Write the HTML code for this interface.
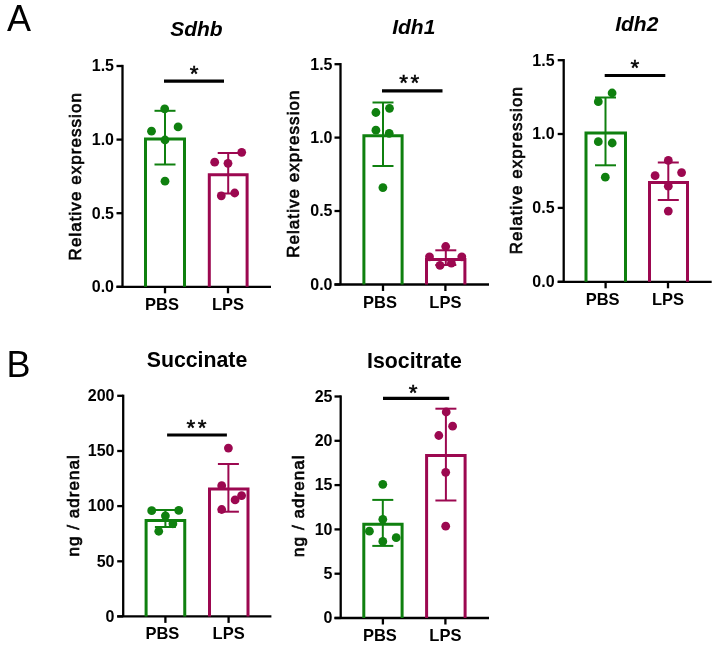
<!DOCTYPE html>
<html><head><meta charset="utf-8"><style>
html,body{margin:0;padding:0;background:#fff;}
body{width:720px;height:648px;overflow:hidden;}
svg{display:block;}
text{font-family:"Liberation Sans",Arial,sans-serif;fill:#000;}
.tick{font-size:16px;font-weight:bold;}
.cat{font-size:16.5px;font-weight:bold;}
.ti{font-size:21px;font-weight:bold;font-style:italic;}
.tb{font-size:21.3px;font-weight:bold;}
.ylab{font-size:17px;letter-spacing:1.05px;stroke:#000;stroke-width:0.65px;}
.star{font-size:22.5px;stroke:#000;stroke-width:0.5px;letter-spacing:2.4px;}
.big{font-size:36px;}
</style></head><body>
<svg width="720" height="648" viewBox="0 0 720 648">
<rect width="720" height="648" fill="#fff"/>
<line x1="122.5" y1="64.85" x2="122.5" y2="286.8" stroke="#000" stroke-width="2.3"/>
<line x1="116.5" y1="66" x2="122.5" y2="66" stroke="#000" stroke-width="2.3"/>
<text x="114" y="71.3" class="tick" text-anchor="end" >1.5</text>
<line x1="116.5" y1="139.6" x2="122.5" y2="139.6" stroke="#000" stroke-width="2.3"/>
<text x="114" y="144.9" class="tick" text-anchor="end" >1.0</text>
<line x1="116.5" y1="213.2" x2="122.5" y2="213.2" stroke="#000" stroke-width="2.3"/>
<text x="114" y="218.5" class="tick" text-anchor="end" >0.5</text>
<line x1="116.5" y1="286.8" x2="122.5" y2="286.8" stroke="#000" stroke-width="2.3"/>
<text x="114" y="292.1" class="tick" text-anchor="end" >0.0</text>
<line x1="116.5" y1="286.8" x2="271" y2="286.8" stroke="#000" stroke-width="2.3"/>
<line x1="165" y1="286.8" x2="165" y2="293.3" stroke="#000" stroke-width="2.3"/>
<line x1="228" y1="286.8" x2="228" y2="293.3" stroke="#000" stroke-width="2.3"/>
<path d="M145.5 286.8 V139 H184.5 V286.8" fill="none" stroke="#0f800f" stroke-width="3"/>
<path d="M209.3 286.8 V174.7 H247.1 V286.8" fill="none" stroke="#9c0850" stroke-width="3"/>
<line x1="165" y1="110.8" x2="165" y2="164.5" stroke="#0f800f" stroke-width="2"/>
<line x1="154.5" y1="110.8" x2="175.5" y2="110.8" stroke="#0f800f" stroke-width="2"/>
<line x1="154.5" y1="164.5" x2="175.5" y2="164.5" stroke="#0f800f" stroke-width="2"/>
<line x1="228.2" y1="153" x2="228.2" y2="193.5" stroke="#9c0850" stroke-width="2"/>
<line x1="217.7" y1="153" x2="238.7" y2="153" stroke="#9c0850" stroke-width="2"/>
<line x1="217.7" y1="193.5" x2="238.7" y2="193.5" stroke="#9c0850" stroke-width="2"/>
<circle cx="164.7" cy="108.8" r="4.4" fill="#0f800f"/>
<circle cx="151.5" cy="131.2" r="4.4" fill="#0f800f"/>
<circle cx="178.1" cy="126.9" r="4.4" fill="#0f800f"/>
<circle cx="165" cy="140" r="4.4" fill="#0f800f"/>
<circle cx="165" cy="181.2" r="4.4" fill="#0f800f"/>
<circle cx="214.7" cy="162.2" r="4.4" fill="#9c0850"/>
<circle cx="228" cy="163.3" r="4.4" fill="#9c0850"/>
<circle cx="241.7" cy="152.3" r="4.4" fill="#9c0850"/>
<circle cx="221.3" cy="195.8" r="4.4" fill="#9c0850"/>
<circle cx="234.7" cy="193" r="4.4" fill="#9c0850"/>
<line x1="164" y1="81.1" x2="224" y2="81.1" stroke="#000" stroke-width="3.2"/>
<text x="195.4" y="81.30000000000001" class="star" text-anchor="middle" >*</text>
<text x="196.4" y="36.1" class="ti" text-anchor="middle" >Sdhb</text>
<text x="162" y="310" class="cat" text-anchor="middle" >PBS</text>
<text x="228" y="310" class="cat" text-anchor="middle" >LPS</text>
<text x="0" y="0" class="ylab" text-anchor="middle" transform="translate(81.2 176.25) rotate(-90)">Relative expression</text>
<line x1="340.5" y1="63.050000000000004" x2="340.5" y2="284.5" stroke="#000" stroke-width="2.3"/>
<line x1="334.5" y1="64.2" x2="340.5" y2="64.2" stroke="#000" stroke-width="2.3"/>
<text x="332.5" y="69.5" class="tick" text-anchor="end" >1.5</text>
<line x1="334.5" y1="137.6" x2="340.5" y2="137.6" stroke="#000" stroke-width="2.3"/>
<text x="332.5" y="142.9" class="tick" text-anchor="end" >1.0</text>
<line x1="334.5" y1="211" x2="340.5" y2="211" stroke="#000" stroke-width="2.3"/>
<text x="332.5" y="216.3" class="tick" text-anchor="end" >0.5</text>
<line x1="334.5" y1="284.5" x2="340.5" y2="284.5" stroke="#000" stroke-width="2.3"/>
<text x="332.5" y="289.8" class="tick" text-anchor="end" >0.0</text>
<line x1="334.5" y1="284.5" x2="489" y2="284.5" stroke="#000" stroke-width="2.3"/>
<line x1="383" y1="284.5" x2="383" y2="291.0" stroke="#000" stroke-width="2.3"/>
<line x1="445.4" y1="284.5" x2="445.4" y2="291.0" stroke="#000" stroke-width="2.3"/>
<path d="M363.9 284.5 V135.7 H402.1 V284.5" fill="none" stroke="#0f800f" stroke-width="3"/>
<path d="M426.5 284.5 V259.4 H464.9 V284.5" fill="none" stroke="#9c0850" stroke-width="3"/>
<line x1="383" y1="102.5" x2="383" y2="166" stroke="#0f800f" stroke-width="2"/>
<line x1="372.5" y1="102.5" x2="393.5" y2="102.5" stroke="#0f800f" stroke-width="2"/>
<line x1="372.5" y1="166" x2="393.5" y2="166" stroke="#0f800f" stroke-width="2"/>
<line x1="445.8" y1="250.3" x2="445.8" y2="265" stroke="#9c0850" stroke-width="2"/>
<line x1="435.3" y1="250.3" x2="456.3" y2="250.3" stroke="#9c0850" stroke-width="2"/>
<line x1="435.3" y1="265" x2="456.3" y2="265" stroke="#9c0850" stroke-width="2"/>
<circle cx="375.9" cy="112.5" r="4.4" fill="#0f800f"/>
<circle cx="389.5" cy="108.3" r="4.4" fill="#0f800f"/>
<circle cx="375.9" cy="130.2" r="4.4" fill="#0f800f"/>
<circle cx="389.2" cy="133.3" r="4.4" fill="#0f800f"/>
<circle cx="382.9" cy="187.6" r="4.4" fill="#0f800f"/>
<circle cx="445.7" cy="246.5" r="4.4" fill="#9c0850"/>
<circle cx="429.5" cy="256.8" r="4.4" fill="#9c0850"/>
<circle cx="461.8" cy="256.8" r="4.4" fill="#9c0850"/>
<circle cx="440" cy="265.4" r="4.4" fill="#9c0850"/>
<circle cx="451.4" cy="263.2" r="4.4" fill="#9c0850"/>
<line x1="382" y1="90.9" x2="442.5" y2="90.9" stroke="#000" stroke-width="3.2"/>
<text x="410.5" y="90.10000000000001" class="star" text-anchor="middle" >**</text>
<text x="413.8" y="34.4" class="ti" text-anchor="middle" >Idh1</text>
<text x="380" y="308" class="cat" text-anchor="middle" >PBS</text>
<text x="445.4" y="308" class="cat" text-anchor="middle" >LPS</text>
<text x="0" y="0" class="ylab" text-anchor="middle" transform="translate(299.4 173.65) rotate(-90)">Relative expression</text>
<line x1="563.7" y1="59.050000000000004" x2="563.7" y2="281.8" stroke="#000" stroke-width="2.3"/>
<line x1="557.7" y1="60.2" x2="563.7" y2="60.2" stroke="#000" stroke-width="2.3"/>
<text x="554.6" y="65.5" class="tick" text-anchor="end" >1.5</text>
<line x1="557.7" y1="134" x2="563.7" y2="134" stroke="#000" stroke-width="2.3"/>
<text x="554.6" y="139.3" class="tick" text-anchor="end" >1.0</text>
<line x1="557.7" y1="207.9" x2="563.7" y2="207.9" stroke="#000" stroke-width="2.3"/>
<text x="554.6" y="213.20000000000002" class="tick" text-anchor="end" >0.5</text>
<line x1="557.7" y1="281.8" x2="563.7" y2="281.8" stroke="#000" stroke-width="2.3"/>
<text x="554.6" y="287.1" class="tick" text-anchor="end" >0.0</text>
<line x1="557.7" y1="281.8" x2="711.7" y2="281.8" stroke="#000" stroke-width="2.3"/>
<line x1="605.6" y1="281.8" x2="605.6" y2="288.3" stroke="#000" stroke-width="2.3"/>
<line x1="668" y1="281.8" x2="668" y2="288.3" stroke="#000" stroke-width="2.3"/>
<path d="M586.0 281.8 V133 H625.5 V281.8" fill="none" stroke="#0f800f" stroke-width="3"/>
<path d="M649.5 281.8 V182.5 H687.5 V281.8" fill="none" stroke="#9c0850" stroke-width="3"/>
<line x1="605.5" y1="97.5" x2="605.5" y2="165.3" stroke="#0f800f" stroke-width="2"/>
<line x1="595.0" y1="97.5" x2="616.0" y2="97.5" stroke="#0f800f" stroke-width="2"/>
<line x1="595.0" y1="165.3" x2="616.0" y2="165.3" stroke="#0f800f" stroke-width="2"/>
<line x1="668.3" y1="162.5" x2="668.3" y2="200" stroke="#9c0850" stroke-width="2"/>
<line x1="657.8" y1="162.5" x2="678.8" y2="162.5" stroke="#9c0850" stroke-width="2"/>
<line x1="657.8" y1="200" x2="678.8" y2="200" stroke="#9c0850" stroke-width="2"/>
<circle cx="598.3" cy="101.7" r="4.4" fill="#0f800f"/>
<circle cx="612.1" cy="93" r="4.4" fill="#0f800f"/>
<circle cx="598.3" cy="141.7" r="4.4" fill="#0f800f"/>
<circle cx="612.2" cy="143" r="4.4" fill="#0f800f"/>
<circle cx="605.3" cy="177.2" r="4.4" fill="#0f800f"/>
<circle cx="668.3" cy="160.4" r="4.4" fill="#9c0850"/>
<circle cx="655.1" cy="175.7" r="4.4" fill="#9c0850"/>
<circle cx="681.6" cy="172.6" r="4.4" fill="#9c0850"/>
<circle cx="668.3" cy="186.2" r="4.4" fill="#9c0850"/>
<circle cx="668.3" cy="211.1" r="4.4" fill="#9c0850"/>
<line x1="604.7" y1="75.5" x2="665.3" y2="75.5" stroke="#000" stroke-width="3.2"/>
<text x="636.2" y="75.30000000000001" class="star" text-anchor="middle" >*</text>
<text x="636.8" y="30.6" class="ti" text-anchor="middle" >Idh2</text>
<text x="602.6" y="305" class="cat" text-anchor="middle" >PBS</text>
<text x="668" y="305" class="cat" text-anchor="middle" >LPS</text>
<text x="0" y="0" class="ylab" text-anchor="middle" transform="translate(522.2 170.2) rotate(-90)">Relative expression</text>
<line x1="123.2" y1="394.65000000000003" x2="123.2" y2="616.4" stroke="#000" stroke-width="2.3"/>
<line x1="117.2" y1="395.8" x2="123.2" y2="395.8" stroke="#000" stroke-width="2.3"/>
<text x="114.5" y="401.1" class="tick" text-anchor="end" >200</text>
<line x1="117.2" y1="451" x2="123.2" y2="451" stroke="#000" stroke-width="2.3"/>
<text x="114.5" y="456.3" class="tick" text-anchor="end" >150</text>
<line x1="117.2" y1="506.1" x2="123.2" y2="506.1" stroke="#000" stroke-width="2.3"/>
<text x="114.5" y="511.40000000000003" class="tick" text-anchor="end" >100</text>
<line x1="117.2" y1="561.3" x2="123.2" y2="561.3" stroke="#000" stroke-width="2.3"/>
<text x="114.5" y="566.5999999999999" class="tick" text-anchor="end" >50</text>
<line x1="117.2" y1="616.4" x2="123.2" y2="616.4" stroke="#000" stroke-width="2.3"/>
<text x="114.5" y="621.6999999999999" class="tick" text-anchor="end" >0</text>
<line x1="117.2" y1="616.4" x2="271.4" y2="616.4" stroke="#000" stroke-width="2.3"/>
<line x1="165.4" y1="616.4" x2="165.4" y2="622.9" stroke="#000" stroke-width="2.3"/>
<line x1="228.6" y1="616.4" x2="228.6" y2="622.9" stroke="#000" stroke-width="2.3"/>
<path d="M146.1 616.4 V520.5 H184.75 V616.4" fill="none" stroke="#0f800f" stroke-width="3"/>
<path d="M209.5 616.4 V489.1 H248.0 V616.4" fill="none" stroke="#9c0850" stroke-width="3"/>
<line x1="165.4" y1="510" x2="165.4" y2="527" stroke="#0f800f" stroke-width="2"/>
<line x1="154.9" y1="510" x2="175.9" y2="510" stroke="#0f800f" stroke-width="2"/>
<line x1="154.9" y1="527" x2="175.9" y2="527" stroke="#0f800f" stroke-width="2"/>
<line x1="228.4" y1="464" x2="228.4" y2="511.7" stroke="#9c0850" stroke-width="2"/>
<line x1="217.9" y1="464" x2="238.9" y2="464" stroke="#9c0850" stroke-width="2"/>
<line x1="217.9" y1="511.7" x2="238.9" y2="511.7" stroke="#9c0850" stroke-width="2"/>
<circle cx="151.7" cy="510.7" r="4.4" fill="#0f800f"/>
<circle cx="178.75" cy="510.4" r="4.4" fill="#0f800f"/>
<circle cx="165.4" cy="515.8" r="4.4" fill="#0f800f"/>
<circle cx="158.75" cy="531.25" r="4.4" fill="#0f800f"/>
<circle cx="172.9" cy="523.75" r="4.4" fill="#0f800f"/>
<circle cx="228.4" cy="448.1" r="4.4" fill="#9c0850"/>
<circle cx="221.7" cy="485.7" r="4.4" fill="#9c0850"/>
<circle cx="235.1" cy="499.9" r="4.4" fill="#9c0850"/>
<circle cx="241.6" cy="495.6" r="4.4" fill="#9c0850"/>
<circle cx="221.7" cy="509.5" r="4.4" fill="#9c0850"/>
<line x1="167.1" y1="435" x2="226.9" y2="435" stroke="#000" stroke-width="3.2"/>
<text x="197.7" y="435.2" class="star" text-anchor="middle" >**</text>
<text x="197" y="367" class="tb" text-anchor="middle" >Succinate</text>
<text x="162.4" y="639.3" class="cat" text-anchor="middle" >PBS</text>
<text x="228.6" y="639.3" class="cat" text-anchor="middle" >LPS</text>
<text x="0" y="0" class="ylab" text-anchor="middle" transform="translate(79 505.3) rotate(-90)">ng / adrenal</text>
<line x1="340.7" y1="395.35" x2="340.7" y2="618" stroke="#000" stroke-width="2.3"/>
<line x1="334.5" y1="396.5" x2="340.7" y2="396.5" stroke="#000" stroke-width="2.3"/>
<text x="332.5" y="401.8" class="tick" text-anchor="end" >25</text>
<line x1="334.5" y1="440.8" x2="340.7" y2="440.8" stroke="#000" stroke-width="2.3"/>
<text x="332.5" y="446.1" class="tick" text-anchor="end" >20</text>
<line x1="334.5" y1="485.1" x2="340.7" y2="485.1" stroke="#000" stroke-width="2.3"/>
<text x="332.5" y="490.40000000000003" class="tick" text-anchor="end" >15</text>
<line x1="334.5" y1="529.4" x2="340.7" y2="529.4" stroke="#000" stroke-width="2.3"/>
<text x="332.5" y="534.6999999999999" class="tick" text-anchor="end" >10</text>
<line x1="334.5" y1="573.7" x2="340.7" y2="573.7" stroke="#000" stroke-width="2.3"/>
<text x="332.5" y="579.0" class="tick" text-anchor="end" >5</text>
<line x1="334.5" y1="618" x2="340.7" y2="618" stroke="#000" stroke-width="2.3"/>
<text x="332.5" y="623.3" class="tick" text-anchor="end" >0</text>
<line x1="334.5" y1="618" x2="489" y2="618" stroke="#000" stroke-width="2.3"/>
<line x1="382.9" y1="618" x2="382.9" y2="624.5" stroke="#000" stroke-width="2.3"/>
<line x1="445.4" y1="618" x2="445.4" y2="624.5" stroke="#000" stroke-width="2.3"/>
<path d="M363.8 618 V524.3 H402.1 V618" fill="none" stroke="#0f800f" stroke-width="3"/>
<path d="M426.6 618 V455.6 H465.1 V618" fill="none" stroke="#9c0850" stroke-width="3"/>
<line x1="382.8" y1="499.9" x2="382.8" y2="545.9" stroke="#0f800f" stroke-width="2"/>
<line x1="372.3" y1="499.9" x2="393.3" y2="499.9" stroke="#0f800f" stroke-width="2"/>
<line x1="372.3" y1="545.9" x2="393.3" y2="545.9" stroke="#0f800f" stroke-width="2"/>
<line x1="445.9" y1="408.7" x2="445.9" y2="500.5" stroke="#9c0850" stroke-width="2"/>
<line x1="435.4" y1="408.7" x2="456.4" y2="408.7" stroke="#9c0850" stroke-width="2"/>
<line x1="435.4" y1="500.5" x2="456.4" y2="500.5" stroke="#9c0850" stroke-width="2"/>
<circle cx="382.8" cy="484.3" r="4.4" fill="#0f800f"/>
<circle cx="382.8" cy="519.3" r="4.4" fill="#0f800f"/>
<circle cx="369.4" cy="531.2" r="4.4" fill="#0f800f"/>
<circle cx="382.8" cy="541.4" r="4.4" fill="#0f800f"/>
<circle cx="396.2" cy="537.7" r="4.4" fill="#0f800f"/>
<circle cx="446.2" cy="412" r="4.4" fill="#9c0850"/>
<circle cx="452.6" cy="426.2" r="4.4" fill="#9c0850"/>
<circle cx="438.8" cy="435.5" r="4.4" fill="#9c0850"/>
<circle cx="445.7" cy="472.3" r="4.4" fill="#9c0850"/>
<circle cx="445.7" cy="526.2" r="4.4" fill="#9c0850"/>
<line x1="383" y1="398.3" x2="449.2" y2="398.3" stroke="#000" stroke-width="3.2"/>
<text x="414.3" y="400.29999999999995" class="star" text-anchor="middle" >*</text>
<text x="414.4" y="367.7" class="tb" text-anchor="middle" >Isocitrate</text>
<text x="379.9" y="641.3" class="cat" text-anchor="middle" >PBS</text>
<text x="445.4" y="641.3" class="cat" text-anchor="middle" >LPS</text>
<text x="0" y="0" class="ylab" text-anchor="middle" transform="translate(303.5 505.7) rotate(-90)">ng / adrenal</text>
<text x="19" y="31" class="big" text-anchor="middle" >A</text>
<text x="18.5" y="377.3" class="big" text-anchor="middle" >B</text>
</svg>
</body></html>
